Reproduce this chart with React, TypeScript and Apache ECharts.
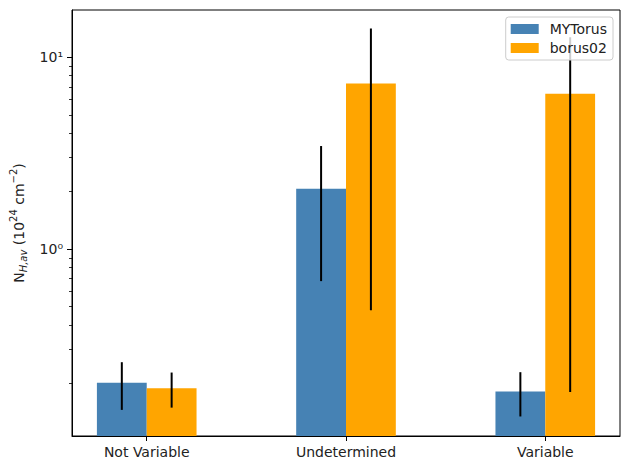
import React, { useEffect, useRef } from "react";
import * as echarts from "echarts";

const categories = ["Not Variable", "Undetermined", "Variable"];
const mytorusValues = [0.201, 2.06, 0.181];
const mytorusErrors = [0.056, 1.38, 0.047];
const borusValues = [0.188, 7.28, 6.44];
const borusErrors = [0.039, 6.8, 6.26];
const seriesNames = ["MYTorus", "borus02"];
const majorTicks = [1, 10];
const majorTickLabels = ["10\u2070", "10\u00b9"];
const minorTicks = [0.2, 0.3, 0.4, 0.5, 0.6, 0.7, 0.8, 0.9, 2, 3, 4, 5, 6, 7, 8, 9];

const FONT = "DejaVu Sans";
const BAR_W = 0.25;

function barRender(params: any, api: any) {
  const x = api.value(0);
  const y = api.value(1);
  const a = api.coord([x - BAR_W / 2, y]);
  const b = api.coord([x + BAR_W / 2, y]);
  const cs = params.coordSys;
  const bottom = cs.y + cs.height;
  const rect = echarts.graphic.clipRectByRect(
    { x: a[0], y: a[1], width: b[0] - a[0], height: bottom - a[1] },
    { x: cs.x, y: cs.y, width: cs.width, height: cs.height }
  );
  return {
    type: "rect",
    shape: rect,
    style: { fill: api.visual("color") },
  };
}

function errRender(params: any, api: any) {
  const x = api.value(0);
  const lo = api.coord([x, api.value(1)]);
  const hi = api.coord([x, api.value(2)]);
  return {
    type: "line",
    shape: { x1: lo[0], y1: lo[1], x2: hi[0], y2: hi[1] },
    style: { stroke: "#000", lineWidth: 2 },
  };
}

export default function App() {
  const ref = useRef<HTMLDivElement>(null);
  useEffect(() => {
    document.body.style.margin = "0";
    const chart = echarts.init(ref.current!, null, { renderer: "svg" });
    const offsets = [-BAR_W / 2, BAR_W / 2];
    const valueSets = [mytorusValues, borusValues];
    const errSets = [mytorusErrors, borusErrors];
    const colors = ["#4682B4", "#FFA500"];

    const barSeries = seriesNames.map((name, s) => ({
      type: "custom",
      name,
      renderItem: barRender,
      itemStyle: { color: colors[s] },
      encode: { x: 0, y: 1 },
      data: valueSets[s].map((v, i) => [i + offsets[s], v]),
      z: 2,
    }));
    const errSeries = seriesNames.map((name, s) => ({
      type: "custom",
      name: name + " err",
      renderItem: errRender,
      encode: { x: 0, y: [1, 2] },
      data: valueSets[s].map((v, i) => [i + offsets[s], v - errSets[s][i], v + errSets[s][i]]),
      z: 3,
    }));

    chart.setOption({
      animation: false,
      grid: {
        left: 72,
        top: 10,
        right: 10,
        bottom: 34,
        show: true,
        borderColor: "#000",
        borderWidth: 1,
        backgroundColor: "transparent",
      },
      legend: {
        data: seriesNames.map((n) => ({ name: n, icon: "rect" })),
        orient: "vertical",
        right: 17,
        top: 17,
        itemWidth: 28,
        itemHeight: 10,
        itemGap: 5,
        padding: [5, 6, 5, 5],
        backgroundColor: "rgba(255,255,255,0.8)",
        borderColor: "#cccccc",
        borderWidth: 1,
        borderRadius: 3,
        textStyle: { fontFamily: FONT, fontSize: 14, color: "#222", padding: [0, 0, 0, 6] },
      },
      xAxis: {
        type: "value",
        min: -0.375,
        max: 2.375,
        splitLine: { show: false },
        axisLine: { show: true, onZero: false, lineStyle: { color: "#000", width: 1 } },
        axisTick: {
          show: true,
          customValues: categories.map((_, i) => i),
          length: 5,
          lineStyle: { color: "#000", width: 1 },
        },
        axisLabel: {
          customValues: categories.map((_, i) => i),
          formatter: (v: number) => categories[Math.round(v)] ?? "",
          fontFamily: FONT,
          fontSize: 14,
          color: "#222",
          margin: 9,
        },
      },
      yAxis: [
        {
          type: "log",
          logBase: 10,
          min: 0.106,
          max: 17.6,
          splitLine: { show: false },
          axisLine: { show: true, onZero: false, lineStyle: { color: "#000", width: 1 } },
          axisTick: {
            show: true,
            customValues: majorTicks,
            length: 5,
            lineStyle: { color: "#000", width: 1 },
          },
          axisLabel: {
            customValues: majorTicks,
            formatter: (v: number) => {
              const idx = majorTicks.findIndex((t) => Math.abs(t - v) < 1e-6 * t);
              return idx >= 0 ? majorTickLabels[idx] : "";
            },
            fontFamily: FONT,
            fontSize: 14,
            color: "#222",
            margin: 9,
          },
          name: "{n|N}{sub|H,av}{n| (10}{sup|24}{n| cm}{sup|\u22122}{n|)}",
          nameLocation: "middle",
          nameRotate: 90,
          nameGap: 42,
          nameTextStyle: {
            rich: {
              n: { fontFamily: FONT, fontSize: 14, color: "#222", lineHeight: 20, verticalAlign: "middle" },
              sub: { fontFamily: FONT, fontSize: 10, fontStyle: "italic", color: "#222", verticalAlign: "bottom", lineHeight: 20 },
              sup: { fontFamily: FONT, fontSize: 10, color: "#222", verticalAlign: "top", lineHeight: 20 },
            },
          },
        },
        {
          type: "log",
          logBase: 10,
          min: 0.106,
          max: 17.6,
          position: "left",
          splitLine: { show: false },
          axisLine: { show: false, onZero: false },
          axisTick: {
            show: true,
            customValues: minorTicks,
            length: 3,
            lineStyle: { color: "#000", width: 0.8 },
          },
          axisLabel: { show: false },
        },
      ],
      series: [...barSeries, ...errSeries],
    });
    return () => chart.dispose();
  }, []);
  return <div ref={ref} style={{ width: 630, height: 470 }} />;
}
